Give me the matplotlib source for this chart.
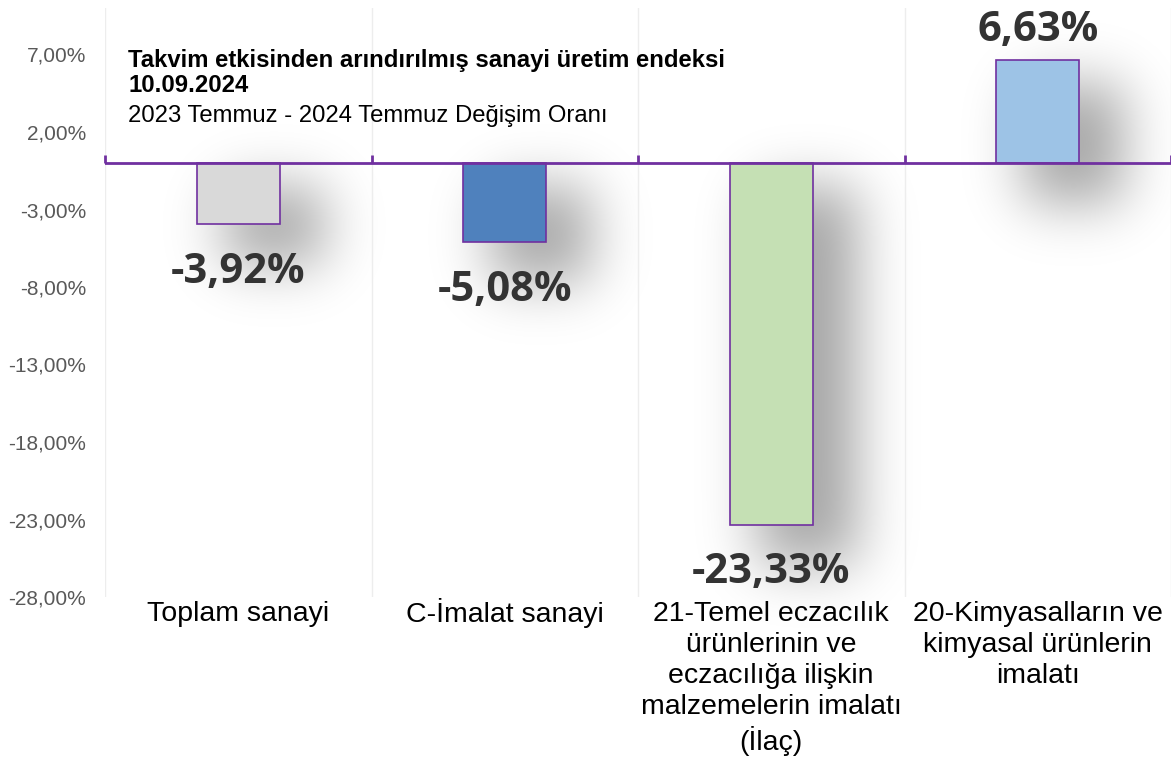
import math
import numpy as np
import matplotlib
matplotlib.use("Agg")
import matplotlib.pyplot as plt
from matplotlib import markers
from matplotlib.transforms import ScaledTranslation

categories = ["Toplam sanayi", "C-İmalat sanayi",
              "21-Temel eczacılık\nürünlerinin ve\neczacılığa ilişkin\nmalzemelerin imalatı\n(İlaç)",
              "20-Kimyasalların ve\nkimyasal ürünlerin\nimalatı"]
values = [-3.92, -5.08, -23.33, 6.63]
value_labels = ["-3,92%", "-5,08%", "-23,33%", "6,63%"]
bar_colors = ["#D9D9D9", "#4F81BD", "#C5E0B4", "#9DC3E6"]
yticks = [-28, -23, -18, -13, -8, -3, 2, 7]
ytick_labels = [f"{v:.2f}%".replace(".", ",") for v in yticks]
title_lines = ["Takvim etkisinden arındırılmış sanayi üretim endeksi", "10.09.2024",
               "2023 Temmuz - 2024 Temmuz Değişim Oranı"]

W, H = 1171, 767
fig = plt.figure(figsize=(W / 100, H / 100), dpi=100)
purple = "#7030A0"

ax = fig.add_axes([105 / W, 170 / H, (W - 105) / W, (597 - 8) / H], zorder=2)
ax.set_facecolor("none")
ax.set_xlim(-0.5, 3.5)
ax.set_ylim(-28, 10)
x = np.arange(len(categories))
bars = ax.bar(x, values, width=0.31, color=bar_colors, edgecolor=purple, linewidth=1.2, zorder=3)

boundaries = np.arange(-0.5, 3.6, 1.0)
for b in boundaries:
    ax.axvline(b, color="#EDEDED", lw=1, zorder=1)
ax.axhline(0, color=purple, lw=2, zorder=4)
ax.plot(boundaries, np.zeros_like(boundaries), ls="none", marker=markers.TICKUP,
        markersize=6, markeredgewidth=2, color=purple, zorder=4, clip_on=False)

for s in ax.spines.values():
    s.set_visible(False)
ax.set_xticks(x)
ax.set_xticklabels(categories, fontsize=20.5, family="Liberation Sans", color="#000000", linespacing=1.25)
ax.tick_params(axis="x", length=0, pad=3)
# keep single-line labels on a common baseline (the dotted capital I is taller)
for lab in ax.get_xticklabels():
    if lab.get_text().startswith("C-"):
        lab.set_transform(lab.get_transform() + ScaledTranslation(0, 3 / 100, fig.dpi_scale_trans))
ax.set_yticks(yticks)
ax.set_yticklabels(ytick_labels, fontsize=15, family="Liberation Sans", color="#595959")
ax.tick_params(axis="y", length=0, pad=13.5)

for xi, v, lab in zip(x, values, value_labels):
    if v < 0:
        ax.annotate(lab, (xi, v), xytext=(0, -20), textcoords="offset points",
                    ha="center", va="top", fontsize=30, fontweight="bold",
                    family="Open Sans", color="#333333", zorder=5)
    else:
        ax.annotate(lab, (xi, v), xytext=(0, 7), textcoords="offset points",
                    ha="center", va="bottom", fontsize=30, fontweight="bold",
                    family="Open Sans", color="#333333", zorder=5)

fig.text(128 / W, 1 - 49 / H, title_lines[0] + "\n" + title_lines[1], fontsize=17.2, fontweight="bold",
         family="Liberation Sans", va="top", ha="left", linespacing=1.12)
fig.text(128 / W, 1 - 105 / H, title_lines[2], fontsize=17.2,
         family="Liberation Sans", va="top", ha="left")

# soft drop shadows
erf = np.vectorize(math.erf)
px = np.arange(W) + 0.5
py = np.arange(H) + 0.5
alpha = np.zeros((H, W))
sig = 28.0
dx, dy = 36, -32
for xi, v in zip(x, values):
    (x0, y0) = ax.transData.transform((xi - 0.155, 0))
    (x1, y1) = ax.transData.transform((xi + 0.155, v))
    xa, xb = sorted([x0, x1]); ya, yb = sorted([y0, y1])
    xa += dx - 8; xb += dx + 8; ya += dy - 8; yb += dy + 8
    fx = 0.5 * (erf((px - xa) / (sig * 1.414)) - erf((px - xb) / (sig * 1.414)))
    fy = 0.5 * (erf((py - ya) / (sig * 1.414)) - erf((py - yb) / (sig * 1.414)))
    alpha = np.maximum(alpha, np.outer(fy, fx))
rgba = np.zeros((H, W, 4))
rgba[..., 3] = alpha * 0.36
bg = fig.add_axes([0, 0, 1, 1], zorder=0)
bg.imshow(rgba, extent=[0, W, 0, H], origin="lower", aspect="auto", interpolation="bilinear")
bg.set_xlim(0, W); bg.set_ylim(0, H)
bg.axis("off")

fig.savefig("out.png", dpi=100, facecolor="white")
